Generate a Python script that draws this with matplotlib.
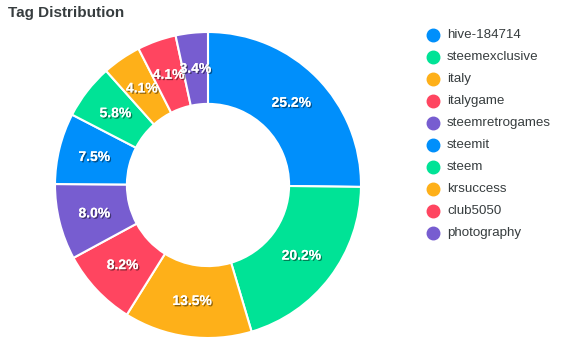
import matplotlib
matplotlib.use("Agg")
from matplotlib import pyplot as plt
from matplotlib.lines import Line2D
import matplotlib.patheffects as pe
import numpy as np

tags = ['hive-184714', 'steemexclusive', 'italy', 'italygame', 'steemretrogames',
        'steemit', 'steem', 'krsuccess', 'club5050', 'photography']
shares = [25.2, 20.2, 13.5, 8.2, 8.0, 7.5, 5.8, 4.1, 4.1, 3.4]
palette = ['#008FFB', '#00E396', '#FEB019', '#FF4560', '#775DD0']
colors = [palette[i % len(palette)] for i in range(len(tags))]

plt.rcParams['font.family'] = ['Liberation Sans', 'DejaVu Sans']

W, H = 576, 352
fig = plt.figure(figsize=(W / 100, H / 100), dpi=100)

# donut centre and radius in pixels
cx, cy, r = 208, 185, 153
ax = fig.add_axes([(cx - r) / W, (H - cy - r) / H, 2 * r / W, 2 * r / H])

inner = 0.53
wedges, _ = ax.pie(shares, colors=colors, startangle=90, counterclock=False,
                   radius=1, wedgeprops=dict(width=1 - inner, edgecolor='white', linewidth=1.5))
ax.set_xlim(-1, 1)
ax.set_ylim(-1, 1)
ax.axis('off')

# percentage labels at mid radius
mid = (1 + inner) / 2
shadow = [pe.withSimplePatchShadow(offset=(1, -1), shadow_rgbFace='black', alpha=0.45), pe.Normal()]
for w, v in zip(wedges, shares):
    ang = np.deg2rad((w.theta1 + w.theta2) / 2)
    ax.text(mid * np.cos(ang), mid * np.sin(ang), f'{v:.1f}%', ha='center', va='center',
            color='white', fontsize=10, fontweight='bold', path_effects=shadow)

fig.text(8 / W, 1 - 13 / H, 'Tag Distribution', fontsize=11, fontweight='bold',
         color='#373d3f', ha='left', va='center')

# legend
for i, (t, c) in enumerate(zip(tags, colors)):
    y = 1 - (35 + i * 22) / H
    fig.add_artist(Line2D([433 / W], [y], marker='o', markersize=9, color=c,
                          linestyle='none', transform=fig.transFigure))
    fig.text(447 / W, y, t, fontsize=9.6, color='#373d3f', ha='left', va='center')

fig.savefig('out.png', dpi=100)
